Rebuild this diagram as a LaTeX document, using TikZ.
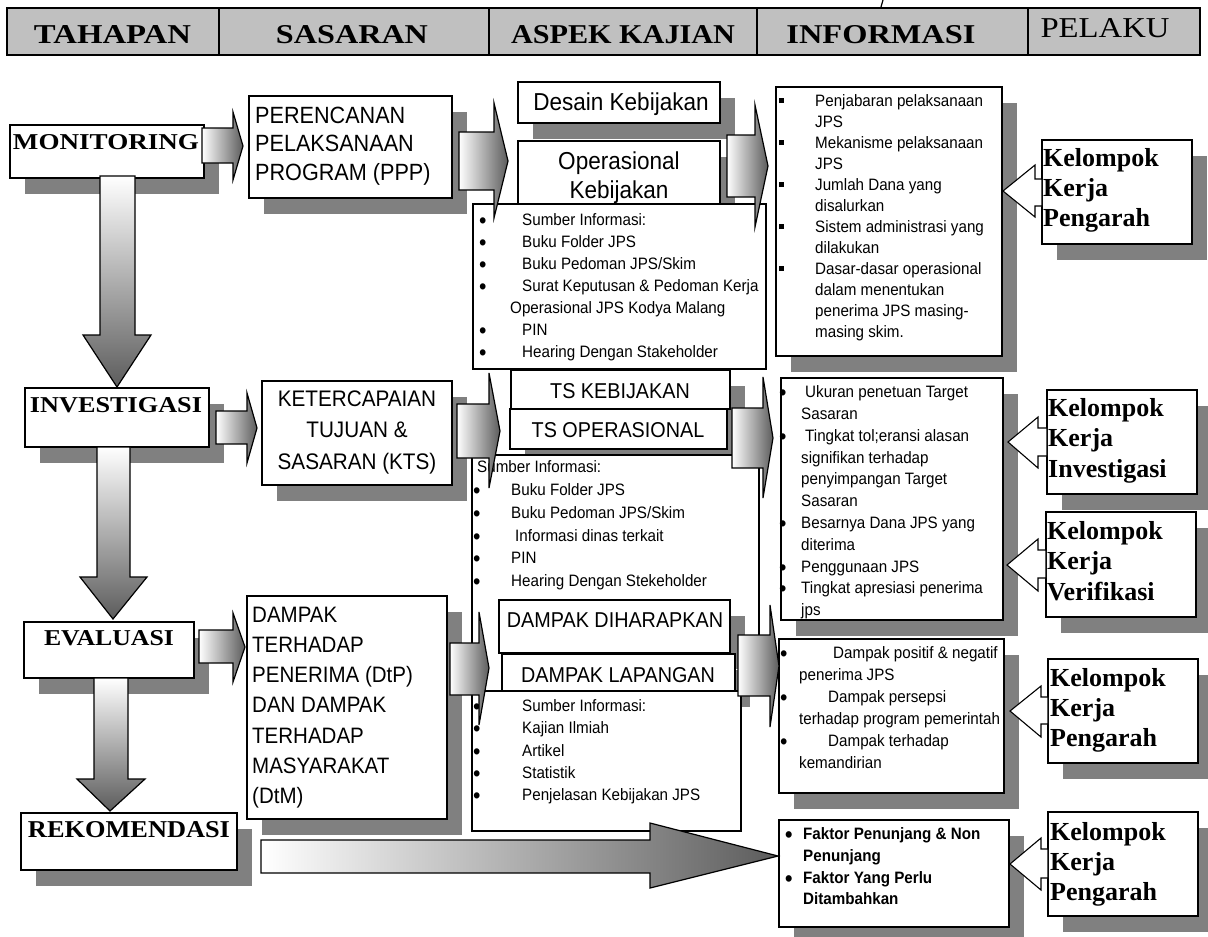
\documentclass[tikz,border=0pt]{standalone}
\usepackage{fontspec}
\setmainfont{Liberation Serif}
\newfontfamily\sansf[FakeStretch=0.92]{Liberation Sans}
\definecolor{headgray}{HTML}{C0C0C0}
\definecolor{shadowgray}{HTML}{808080}
\definecolor{arrowdark}{HTML}{5C5C5C}

% text squeezed or stretched to a given width and cap height
\newcommand\fitcaps[3]{\resizebox{#1pt}{#2pt}{#3}}
% list helpers: round bullet, square bullet, indent
\newcommand\bl[1]{\makebox[#1pt][l]{\hspace*{-1pt}\raisebox{-3pt}{\fontsize{23}{23}\selectfont\textbullet}}}
\newcommand\sq[1]{\makebox[#1pt][l]{\rule[3.5pt]{4.5pt}{5pt}}}
\newcommand\ind[1]{\hspace*{#1pt}}

\tikzset{
  panel/.style={draw=black, line width=1.5pt, fill=white, inner sep=0pt, outer sep=0pt, anchor=north west},
  headcell/.style={draw=black, line width=1.8pt, inner sep=0pt, outer sep=0pt, anchor=north west},
  hgrad/.style={draw=black, line width=1.2pt, left color=white, right color=arrowdark},
  vgrad/.style={draw=black, line width=1.2pt, top color=white, bottom color=arrowdark},
  backarrow/.style={draw=black, line width=1.1pt, fill=white},
  bigsans/.style={font=\sansf\fontsize{23.5}{28.5}\selectfont, inner sep=0pt, align=left, anchor=north west},
  midsans/.style={font=\sansf\fontsize{21.5}{29}\selectfont, inner sep=0pt, anchor=base},
  listtext/.style={inner sep=0pt, align=left, anchor=north west},
  groupname/.style={font=\bfseries\fontsize{26}{30}\selectfont, inner sep=0pt, align=left, anchor=north west},
}

% a framed panel from its corners
\newcommand\panelbox[5]{%
  \pgfmathsetmacro\panelw{#4-#2}\pgfmathsetmacro\panelh{#5-#3}%
  \node[panel, minimum width=\panelw pt, minimum height=\panelh pt] (#1) at (#2,#3) {};}
% the same panel over a solid offset shadow
\newcommand\shadowpanel[5]{%
  \fill[shadowgray, shift={(15,16)}] (#2,#3) rectangle (#4,#5);
  \panelbox{#1}{#2}{#3}{#4}{#5}}

\begin{document}
\begin{tikzpicture}[x=1pt,y=-1pt]
\useasboundingbox (0,0) rectangle (1208,937);

% ---------- column headings ----------
\fill[headgray] (7,8) rectangle (1200,55);
\node[headcell, minimum width=212pt, minimum height=47pt] (cTahapan) at (7,8) {};
\node[headcell, minimum width=270pt, minimum height=47pt] (cSasaran) at (219,8) {};
\node[headcell, minimum width=268pt, minimum height=47pt] (cAspek) at (489,8) {};
\node[headcell, minimum width=271pt, minimum height=47pt] (cInfo) at (757,8) {};
\node[headcell, minimum width=172pt, minimum height=47pt] (cPelaku) at (1028,8) {};
\node[anchor=base] (tTahapan) at (112.5,43) {\fitcaps{157}{18}{\bfseries TAHAPAN}};
\node[anchor=base] (tSasaran) at (352,43) {\fitcaps{152}{18}{\bfseries SASARAN}};
\node[anchor=base] (tAspek) at (623,43) {\fitcaps{224}{18}{\bfseries ASPEK KAJIAN}};
\node[anchor=base] (tInfo) at (881,43) {\fitcaps{189}{18}{\bfseries INFORMASI}};
\node[anchor=base] (tPelaku) at (1105,37) {\fitcaps{129}{19}{PELAKU}};
\draw[line width=1.2pt] (883,0) -- (881,7);

% ---------- stages ----------
\shadowpanel{mon}{10}{125}{204}{178}
\node[anchor=base] (monT) at (106,149) {\fitcaps{186}{15}{\bfseries MONITORING}};
\shadowpanel{inv}{25}{388}{209}{447}
\node[anchor=base] (invT) at (116,412) {\fitcaps{172}{15}{\bfseries INVESTIGASI}};
\shadowpanel{eva}{24}{622}{194}{678}
\node[anchor=base] (evaT) at (109,645) {\fitcaps{130}{15}{\bfseries EVALUASI}};
\shadowpanel{rek}{21}{813}{237}{870}
\node[anchor=base] (rekT) at (129,837) {\fitcaps{202}{16}{\bfseries REKOMENDASI}};

% ---------- targets ----------
\shadowpanel{ppp}{249}{96}{452}{198}
\node[bigsans] (pppT) at (255,103) {\strut PERENCANAN\\PELAKSANAAN\\PROGRAM (PPP)};
\shadowpanel{kts}{262}{381}{452}{485}
\node[bigsans, font=\sansf\fontsize{22.5}{31.5}\selectfont, align=center, anchor=north] (ktsT) at (357,384) {\strut KETERCAPAIAN\\TUJUAN \&\\SASARAN (KTS)};
\shadowpanel{dtp}{247}{596}{447}{819}
\node[bigsans, font=\sansf\fontsize{22.3}{30.2}\selectfont] (dtpT) at (252,600.9) {\strut DAMPAK\\TERHADAP\\PENERIMA (DtP)\\DAN DAMPAK\\TERHADAP\\MASYARAKAT\\(DtM)};

% ---------- study aspects: policy ----------
\shadowpanel{desain}{518}{82}{720}{123}
\node[midsans, font=\sansf\fontsize{24.5}{29}\selectfont] (desainT) at (621,110) {Desain Kebijakan};
\shadowpanel{opr}{518}{141}{720}{204}
\node[midsans, font=\sansf\fontsize{24.5}{29}\selectfont, align=center, anchor=north] (oprT) at (619,148.7) {\strut Operasional\\Kebijakan};
\panelbox{src1}{473}{204}{766}{369}
\node[listtext, font=\sansf\fontsize{16.5}{22}\selectfont] (src1T) at (480,210.1) {%
\strut\bl{42}Sumber Informasi:\\
\bl{42}Buku Folder JPS\\
\bl{42}Buku Pedoman JPS/Skim\\
\bl{42}Surat Keputusan \& Pedoman Kerja\\
\ind{30}Operasional JPS Kodya Malang\\
\bl{42}PIN\\
\bl{42}Hearing Dengan Stakeholder};

% ---------- study aspects: targets ----------
\shadowpanel{tsk}{511}{370}{730}{409}
\node[midsans] (tskT) at (620,398) {TS KEBIJAKAN};
\shadowpanel{tso}{510}{409}{727}{449}
\node[midsans] (tsoT) at (618,437) {TS OPERASIONAL};
\panelbox{src2}{472}{455}{759}{691}
\node[listtext, font=\sansf\fontsize{16.5}{22.8}\selectfont] (src2T) at (474,456.5) {%
\strut\ind{3}Sumber Informasi:\\
\bl{37}Buku Folder JPS\\
\bl{37}Buku Pedoman JPS/Skim\\
\bl{41}Informasi dinas terkait\\
\bl{37}PIN\\
\bl{37}Hearing Dengan Stekeholder};

% ---------- study aspects: impact ----------
\shadowpanel{harap}{499}{600}{730}{653}
\node[midsans] (harapT) at (615,627) {DAMPAK DIHARAPKAN};
\shadowpanel{lap}{502}{654}{735}{691}
\node[midsans] (lapT) at (618,682) {DAMPAK LAPANGAN};
\panelbox{src3}{472}{691}{741}{831}
\node[listtext, font=\sansf\fontsize{16.5}{22.2}\selectfont] (src3T) at (474,696) {%
\strut\bl{48}Sumber Informasi:\\
\bl{48}Kajian Ilmiah\\
\bl{48}Artikel\\
\bl{48}Statistik\\
\bl{48}Penjelasan Kebijakan JPS};

% ---------- information ----------
\shadowpanel{inf1}{776}{87}{1002}{356}
\node[listtext, font=\sansf\fontsize{16.5}{21}\selectfont] (inf1T) at (779,91.8) {%
\strut\sq{36}Penjabaran pelaksanaan\\
\ind{36}JPS\\
\sq{36}Mekanisme pelaksanaan\\
\ind{36}JPS\\
\sq{36}Jumlah Dana yang\\
\ind{36}disalurkan\\
\sq{36}Sistem administrasi yang\\
\ind{36}dilakukan\\
\sq{36}Dasar-dasar operasional\\
\ind{36}dalam menentukan\\
\ind{36}penerima JPS masing-\\
\ind{36}masing skim.};

\shadowpanel{inf2}{781}{378}{1003}{620}
\node[listtext, font=\sansf\fontsize{16.5}{21.8}\selectfont] (inf2T) at (780,382.2) {%
\strut\bl{25}Ukuran penetuan Target\\
\ind{21}Sasaran\\
\bl{25}Tingkat tol;eransi alasan\\
\ind{21}signifikan terhadap\\
\ind{21}penyimpangan Target\\
\ind{21}Sasaran\\
\bl{21}Besarnya Dana JPS yang\\
\ind{21}diterima\\
\bl{21}Penggunaan JPS\\
\bl{21}Tingkat apresiasi penerima\\
\ind{21}jps};

\shadowpanel{inf3}{779}{639}{1004}{793}
\node[listtext, font=\sansf\fontsize{16.5}{22}\selectfont] (inf3T) at (781,643.1) {%
\strut\bl{52}Dampak positif \& negatif\\
\ind{18}penerima JPS\\
\bl{47}Dampak persepsi\\
\ind{18}terhadap program pemerintah\\
\bl{47}Dampak terhadap\\
\ind{18}kemandirian};

\shadowpanel{infR}{779}{820}{1009}{927}
\node[listtext, font=\sansf\bfseries\fontsize{16.5}{21.7}\selectfont] (infRT) at (786,824.3) {%
\strut\bl{17}Faktor Penunjang \& Non\\
\ind{17}Penunjang\\
\bl{17}Faktor Yang Perlu\\
\ind{17}Ditambahkan};

% ---------- actors ----------
\shadowpanel{grp1}{1042}{140}{1192}{244}
\node[groupname] (grp1T) at (1043,145) {\strut Kelompok\\Kerja\\Pengarah};
\shadowpanel{grp2}{1047}{390}{1197}{494}
\node[groupname, font=\bfseries\fontsize{26}{30.5}\selectfont] (grp2T) at (1048,394.6) {\strut Kelompok\\Kerja\\Investigasi};
\shadowpanel{grp3}{1046}{512}{1196}{617}
\node[groupname, font=\bfseries\fontsize{26}{30.5}\selectfont] (grp3T) at (1047,517.6) {\strut Kelompok\\Kerja\\Verifikasi};
\shadowpanel{grp4}{1048}{659}{1198}{763}
\node[groupname] (grp4T) at (1050,665) {\strut Kelompok\\Kerja\\Pengarah};
\shadowpanel{grp5}{1048}{812}{1198}{916}
\node[groupname] (grp5T) at (1050,819) {\strut Kelompok\\Kerja\\Pengarah};

% ---------- stage to stage ----------
\shadedraw[vgrad] (100,176) -- (100,335) -- (83,335) -- (117,387) -- (151,335) -- (135,335) -- (135,176) -- cycle;
\shadedraw[vgrad] (97,447) -- (97,577) -- (80,577) -- (113,619) -- (147,577) -- (130,577) -- (130,447) -- cycle;
\shadedraw[vgrad] (94,678) -- (94,779) -- (77,779) -- (110,811) -- (145,779) -- (128,779) -- (128,678) -- cycle;

% ---------- stage -> target -> aspect -> information ----------
\shadedraw[hgrad] (202,128) -- (233,128) -- (233,112) -- (243,146) -- (233,180) -- (233,163) -- (202,163) -- cycle;
\shadedraw[hgrad] (459,132) -- (494,132) -- (494,103) -- (508,161) -- (494,218) -- (494,190) -- (459,190) -- cycle;
\shadedraw[hgrad] (727,135) -- (755,135) -- (755,105) -- (768,166) -- (755,227) -- (755,197) -- (727,197) -- cycle;

\shadedraw[hgrad] (216,411) -- (247,411) -- (247,393) -- (257,428) -- (247,463) -- (247,444) -- (216,444) -- cycle;
\shadedraw[hgrad] (457,404) -- (489,404) -- (489,373) -- (500,431) -- (489,488) -- (489,458) -- (457,458) -- cycle;
\shadedraw[hgrad] (732,408) -- (763,408) -- (763,377) -- (773,438) -- (763,498) -- (763,468) -- (732,468) -- cycle;

\shadedraw[hgrad] (199,630) -- (233,630) -- (233,613) -- (245,647) -- (233,682) -- (233,663) -- (199,663) -- cycle;
\shadedraw[hgrad] (450,643) -- (479,643) -- (479,612) -- (489,668) -- (479,725) -- (479,695) -- (450,695) -- cycle;
\shadedraw[hgrad] (738,635) -- (770,635) -- (770,605) -- (779,666) -- (770,727) -- (770,696) -- (738,696) -- cycle;

\shadedraw[hgrad] (261,840) -- (650,840) -- (650,823) -- (778,856) -- (650,888) -- (650,873) -- (261,873) -- cycle;

% ---------- actor -> information ----------
\filldraw[backarrow] (1042,179) -- (1035,179) -- (1035,165) -- (1003,191) -- (1035,217) -- (1035,206) -- (1042,206) -- cycle;
\filldraw[backarrow] (1047,428) -- (1038,428) -- (1038,417) -- (1008,442) -- (1038,468) -- (1038,456) -- (1047,456) -- cycle;
\filldraw[backarrow] (1046,550) -- (1038,550) -- (1038,539) -- (1007,565) -- (1038,591) -- (1038,578) -- (1046,578) -- cycle;
\filldraw[backarrow] (1048,697) -- (1041,697) -- (1041,686) -- (1010,711) -- (1041,737) -- (1041,724) -- (1048,724) -- cycle;
\filldraw[backarrow] (1048,849) -- (1041,849) -- (1041,838) -- (1010,864) -- (1041,890) -- (1041,878) -- (1048,878) -- cycle;
\end{tikzpicture}
\end{document}
